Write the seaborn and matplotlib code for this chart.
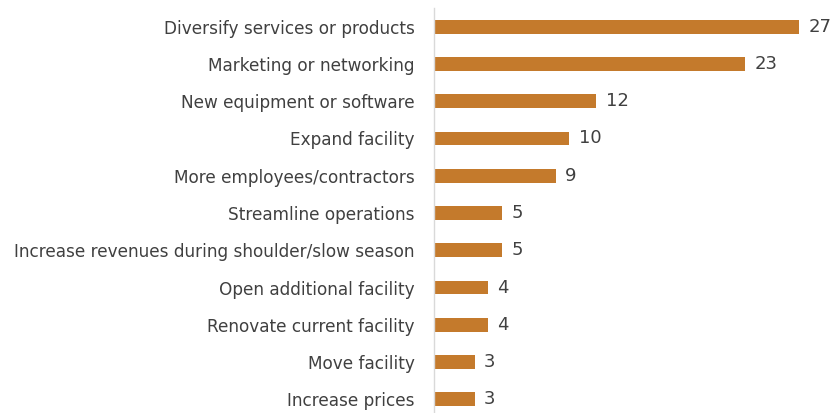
import matplotlib
matplotlib.use("Agg")
import matplotlib.pyplot as plt
import seaborn as sns
import pandas as pd

categories = [
    "Diversify services or products",
    "Marketing or networking",
    "New equipment or software",
    "Expand facility",
    "More employees/contractors",
    "Streamline operations",
    "Increase revenues during shoulder/slow season",
    "Open additional facility",
    "Renovate current facility",
    "Move facility",
    "Increase prices",
]
counts = [27, 23, 12, 10, 9, 5, 5, 4, 4, 3, 3]

bar_color = "#C47A2C"
text_color = "#404040"

sns.set_theme(style="white")
plt.rcParams["font.family"] = ["DejaVu Sans"]

df = pd.DataFrame({"category": categories, "count": counts})

fig = plt.figure(figsize=(8.36, 4.13), dpi=100)
ax = fig.add_axes([434 / 836, -5 / 413, 405.6 / 836, 410 / 413])

sns.barplot(data=df, y="category", x="count", orient="h", color=bar_color,
            width=0.37, saturation=1, linewidth=0, ax=ax)

ax.set_xlim(0, 30)
ax.set_ylim(10.5, -0.5)
ax.set_xlabel("")
ax.set_ylabel("")
ax.set_xticks([])

for side in ("top", "right", "bottom"):
    ax.spines[side].set_visible(False)
ax.spines["left"].set_color("#D9D9D9")
ax.spines["left"].set_linewidth(1.0)

ax.tick_params(axis="y", length=0, pad=14, labelsize=12.2, labelcolor=text_color)

for patch, v in zip(ax.patches, counts):
    y = patch.get_y() + patch.get_height() / 2
    ax.text(patch.get_width() + 0.7, y, f"{v}", va="center", ha="left",
            fontsize=13, color=text_color)

fig.savefig("out.png", dpi=100)
